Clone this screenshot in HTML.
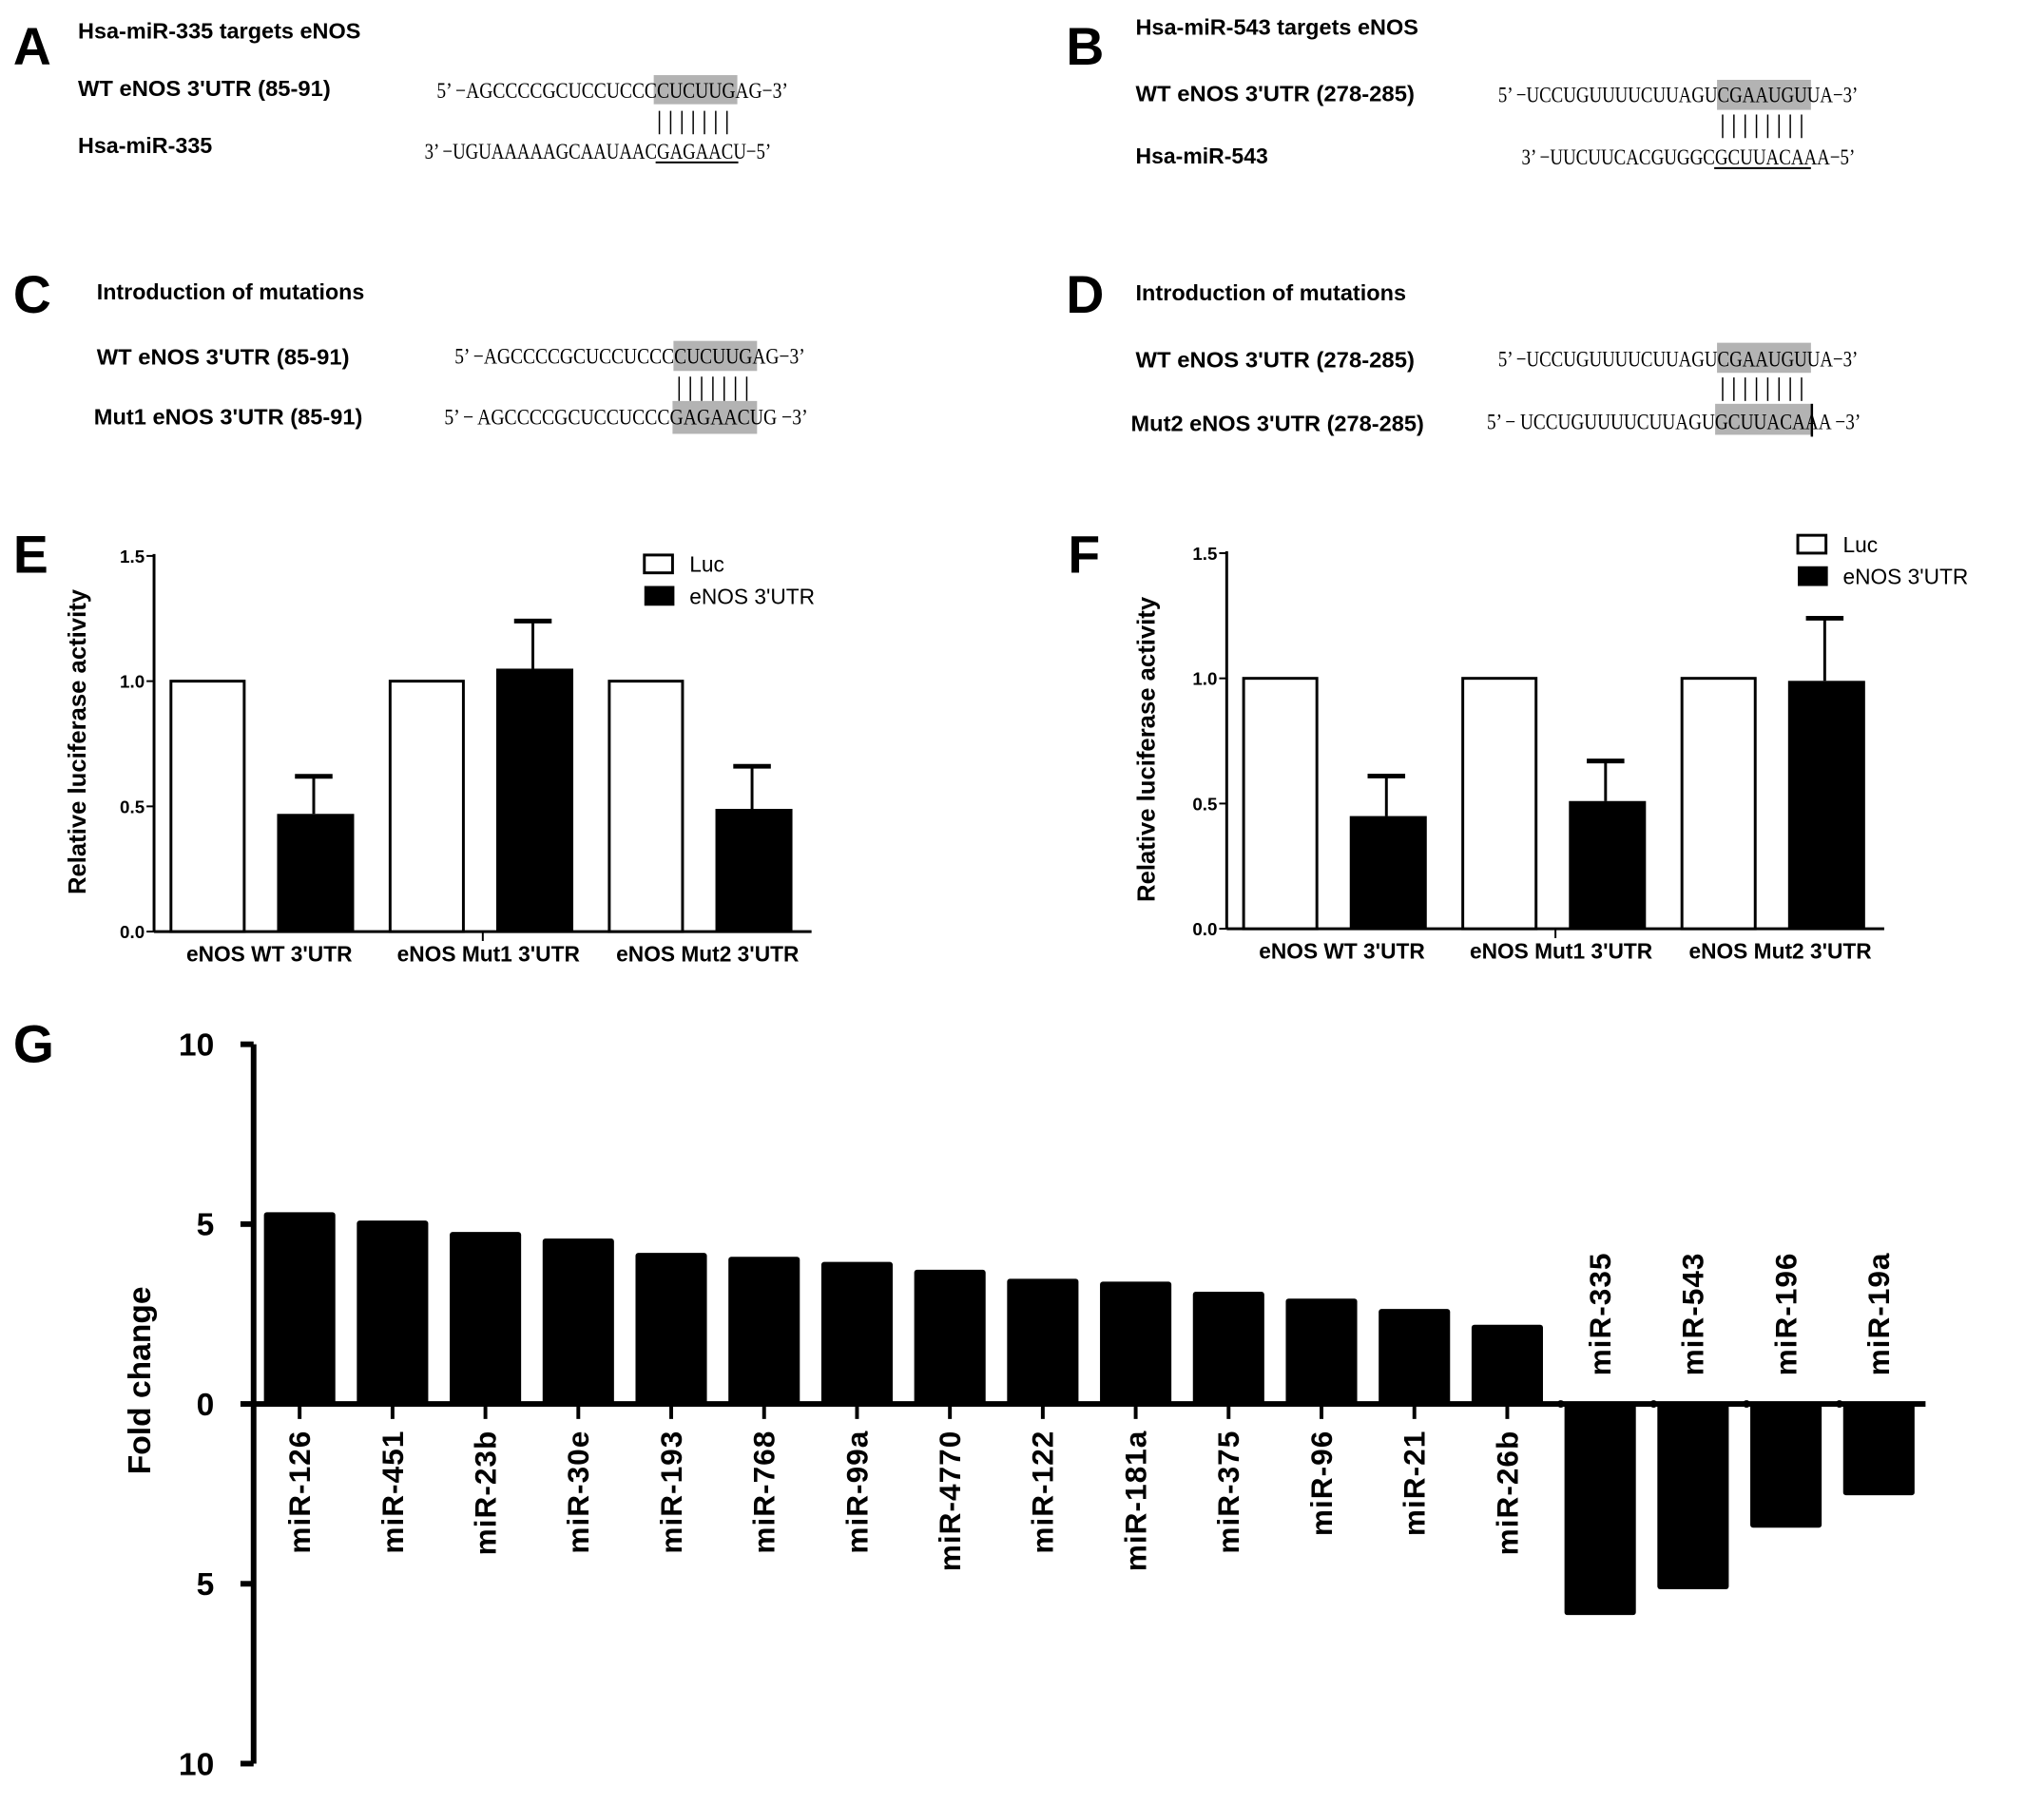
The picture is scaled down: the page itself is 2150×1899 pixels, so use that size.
<!DOCTYPE html>
<html><head><meta charset="utf-8"><style>
html,body{margin:0;padding:0;background:#fff;}
svg{display:block;}
.lb{font-family:"Liberation Sans",sans-serif;font-weight:bold;}
.sq{font-family:"Liberation Serif",serif;}
</style></head><body>
<svg id="fig" width="2150" height="1899" viewBox="0 0 2150 1899" xmlns="http://www.w3.org/2000/svg">
<g transform="scale(0.988)">
<g>
<text class="lb" x="14" y="69" font-size="56">A</text>
<text class="lb" x="83" y="41" font-size="23" textLength="301" lengthAdjust="spacingAndGlyphs">Hsa-miR-335 targets eNOS</text>
<text class="lb" x="83" y="102" font-size="23" textLength="269" lengthAdjust="spacingAndGlyphs">WT eNOS 3'UTR (85-91)</text>
<rect x="696" y="80" width="89" height="31" fill="#b3b3b3"/>
<text class="sq" x="465" y="104" font-size="24" textLength="374" lengthAdjust="spacingAndGlyphs">5’ −AGCCCCGCUCCUCCCCUCUUGAG−3’</text>
<path d="M702 118V143M714 118V143M726 118V143M738 118V143M750 118V143M762 118V143M774 118V143" stroke="#000" stroke-width="1.5"/>
<text class="lb" x="83" y="163" font-size="23" textLength="143" lengthAdjust="spacingAndGlyphs">Hsa-miR-335</text>
<text class="sq" x="452" y="169" font-size="24" textLength="369" lengthAdjust="spacingAndGlyphs">3’ −UGUAAAAAGCAAUAACGAGAACU−5’</text>
<line x1="698" y1="173" x2="786" y2="173" stroke="#000" stroke-width="2"/>
</g>
<g>
<text class="lb" x="1135" y="69" font-size="56">B</text>
<text class="lb" x="1209" y="37" font-size="23" textLength="301" lengthAdjust="spacingAndGlyphs">Hsa-miR-543 targets eNOS</text>
<text class="lb" x="1209" y="108" font-size="23" textLength="297" lengthAdjust="spacingAndGlyphs">WT eNOS 3'UTR (278-285)</text>
<rect x="1828" y="85" width="100" height="32" fill="#b3b3b3"/>
<text class="sq" x="1595" y="109" font-size="24" textLength="383" lengthAdjust="spacingAndGlyphs">5’ −UCCUGUUUUCUUAGUCGAAUGUUA−3’</text>
<path d="M1834 122V147M1846 122V147M1858 122V147M1870 122V147M1882 122V147M1894 122V147M1906 122V147M1918 122V147" stroke="#000" stroke-width="1.5"/>
<text class="lb" x="1209" y="174" font-size="23" textLength="141" lengthAdjust="spacingAndGlyphs">Hsa-miR-543</text>
<text class="sq" x="1620" y="175" font-size="24" textLength="355" lengthAdjust="spacingAndGlyphs">3’ −UUCUUCACGUGGCGCUUACAAA−5’</text>
<line x1="1825" y1="179" x2="1928" y2="179" stroke="#000" stroke-width="2"/>
</g>
<g>
<text class="lb" x="14" y="333" font-size="56">C</text>
<text class="lb" x="103" y="319" font-size="23" textLength="285" lengthAdjust="spacingAndGlyphs">Introduction of mutations</text>
<text class="lb" x="103" y="388" font-size="23" textLength="269" lengthAdjust="spacingAndGlyphs">WT eNOS 3'UTR (85-91)</text>
<rect x="717" y="363" width="89" height="32" fill="#b3b3b3"/>
<text class="sq" x="484" y="387" font-size="24" textLength="373" lengthAdjust="spacingAndGlyphs">5’ −AGCCCCGCUCCUCCCCUCUUGAG−3’</text>
<path d="M723 401V427M735 401V427M747 401V427M759 401V427M771 401V427M783 401V427M795 401V427" stroke="#000" stroke-width="1.5"/>
<text class="lb" x="100" y="452" font-size="23" textLength="286" lengthAdjust="spacingAndGlyphs">Mut1 eNOS 3'UTR (85-91)</text>
<rect x="716" y="427" width="90" height="35" fill="#b3b3b3"/>
<text class="sq" x="473" y="452" font-size="24" textLength="387" lengthAdjust="spacingAndGlyphs">5’ − AGCCCCGCUCCUCCCGAGAACUG −3’</text>
</g>
<g>
<text class="lb" x="1135" y="333" font-size="56">D</text>
<text class="lb" x="1209" y="320" font-size="23" textLength="288" lengthAdjust="spacingAndGlyphs">Introduction of mutations</text>
<text class="lb" x="1209" y="391" font-size="23" textLength="297" lengthAdjust="spacingAndGlyphs">WT eNOS 3'UTR (278-285)</text>
<rect x="1828" y="365" width="100" height="32" fill="#b3b3b3"/>
<text class="sq" x="1595" y="390" font-size="24" textLength="383" lengthAdjust="spacingAndGlyphs">5’ −UCCUGUUUUCUUAGUCGAAUGUUA−3’</text>
<path d="M1834 402V427M1846 402V427M1858 402V427M1870 402V427M1882 402V427M1894 402V427M1906 402V427M1918 402V427" stroke="#000" stroke-width="1.5"/>
<text class="lb" x="1204" y="459" font-size="23" textLength="312" lengthAdjust="spacingAndGlyphs">Mut2 eNOS 3'UTR (278-285)</text>
<rect x="1826" y="430" width="104" height="33" fill="#b3b3b3"/>
<text class="sq" x="1583" y="457" font-size="24" textLength="398" lengthAdjust="spacingAndGlyphs">5’ − UCCUGUUUUCUUAGUGCUUACAAA −3’</text>
<line x1="1929" y1="430" x2="1929" y2="465" stroke="#000" stroke-width="2.5"/>
</g>
<text class="lb" x="14" y="610" font-size="56">E</text>
<text class="lb" x="1137" y="610" font-size="56">F</text>
<text class="lb" x="14" y="1131" font-size="56">G</text>
<g id="chartE"></g>
<g id="chartF"></g>
<g id="chartG"></g>
</g>
</svg>
<script>
const luciferaseCategories = ["eNOS WT 3'UTR", "eNOS Mut1 3'UTR", "eNOS Mut2 3'UTR"];
const luciferaseTicks = ["0.0", "0.5", "1.0", "1.5"];
const eLucValues = [1.0, 1.0, 1.0];
const eUtrValues = [0.47, 1.05, 0.49];
const eUtrErrors = [0.15, 0.19, 0.17];
const fLucValues = [1.0, 1.0, 1.0];
const fUtrValues = [0.45, 0.51, 0.99];
const fUtrErrors = [0.16, 0.16, 0.25];
const gCategories = ["miR-126","miR-451","miR-23b","miR-30e","miR-193","miR-768","miR-99a","miR-4770","miR-122","miR-181a","miR-375","miR-96","miR-21","miR-26b","miR-335","miR-543","miR-196","miR-19a"];
const gValues = [5.33,5.1,4.78,4.6,4.2,4.09,3.95,3.73,3.48,3.4,3.12,2.93,2.64,2.2,-5.87,-5.15,-3.44,-2.54];
const gTicks = [10, 5, 0, -5, -10];
const gTickLabels = ["10", "5", "0", "5", "10"];

const NS = "http://www.w3.org/2000/svg";
function mk(parent, tag, attrs, text) {
  const e = document.createElementNS(NS, tag);
  for (const k in attrs) e.setAttribute(k, attrs[k]);
  if (text !== undefined) e.textContent = text;
  parent.appendChild(e);
  return e;
}

function lucChart(g, cfg, lucVals, utrVals, errs, prefix) {
  const y = v => cfg.y0 - (v / 1.5) * (cfg.y0 - cfg.y15);
  const groupW = (cfg.xEnd - cfg.ax) / luciferaseCategories.length;
  const bw = 78;
  mk(g, "line", {x1: cfg.ax, y1: cfg.y15 - 2, x2: cfg.ax, y2: cfg.y0, stroke: "#000", "stroke-width": 3});
  mk(g, "line", {x1: cfg.ax, y1: cfg.y0, x2: cfg.xEnd, y2: cfg.y0, stroke: "#000", "stroke-width": 3});
  mk(g, "line", {x1: cfg.ax + groupW * 1.5, y1: cfg.y0, x2: cfg.ax + groupW * 1.5, y2: cfg.y0 + 10, stroke: "#000", "stroke-width": 2});
  luciferaseTicks.forEach(t => {
    const yy = y(parseFloat(t));
    mk(g, "line", {x1: cfg.ax - 8, y1: yy, x2: cfg.ax, y2: yy, stroke: "#000", "stroke-width": 2});
    const tx = mk(g, "text", {x: cfg.ax - 10, y: yy + 7, "text-anchor": "end", "font-size": 19, class: "lb"}, t);
    
    
  });
  luciferaseCategories.forEach((c, i) => {
    const gx = cfg.ax + groupW * i;
    const lx = gx + 18, ux = gx + 131;
    const r1 = mk(g, "rect", {x: lx, y: y(lucVals[i]), width: bw, height: cfg.y0 - y(lucVals[i]), fill: "#fff", stroke: "#000", "stroke-width": 3});
    
    
    const ey = y(utrVals[i] + errs[i]);
    mk(g, "line", {x1: ux + bw / 2, y1: ey, x2: ux + bw / 2, y2: y(utrVals[i]), stroke: "#000", "stroke-width": 3});
    mk(g, "line", {x1: ux + bw / 2 - 20, y1: ey, x2: ux + bw / 2 + 20, y2: ey, stroke: "#000", "stroke-width": 5});
    const r2 = mk(g, "rect", {x: ux, y: y(utrVals[i]), width: bw + 4, height: cfg.y0 - y(utrVals[i]), fill: "#000"});
    
    
    const lt = mk(g, "text", {x: gx + groupW / 2 + 6, y: cfg.y0 + 32, "text-anchor": "middle", "font-size": 23, class: "lb"}, c);
    
    
  });
  const yt = mk(g, "text", {x: 0, y: 0, "text-anchor": "middle", "font-size": 26, class: "lb", transform: `translate(${cfg.titleX},${cfg.titleY}) rotate(-90)`}, "Relative luciferase activity");
  
  
  const b1 = mk(g, "rect", {x: cfg.legX, y: cfg.legY, width: 30, height: 19, fill: "#fff", stroke: "#000", "stroke-width": 3});
  
  
  const b2 = mk(g, "rect", {x: cfg.legX, y: cfg.legY + 33, width: 32, height: 21, fill: "#000"});
  
  
  const t1 = mk(g, "text", {x: cfg.legX + 48, y: cfg.legY + 18, "font-size": 23, "font-family": "Liberation Sans, sans-serif"}, "Luc");
  
  
  const t2 = mk(g, "text", {x: cfg.legX + 48, y: cfg.legY + 52, "font-size": 23, "font-family": "Liberation Sans, sans-serif"}, "eNOS 3'UTR");
  
  
}

lucChart(document.getElementById("chartE"), {ax: 164, xEnd: 864, y0: 992, y15: 592, titleX: 91, titleY: 790, legX: 686, legY: 591}, eLucValues, eUtrValues, eUtrErrors, "e");
lucChart(document.getElementById("chartF"), {ax: 1306, xEnd: 2006, y0: 989, y15: 589, titleX: 1229, titleY: 798, legX: 1914, legY: 570}, fLucValues, fUtrValues, fUtrErrors, "f");

(function () {
  const g = document.getElementById("chartG");
  const ax = 270, y0 = 1495, unit = 38.3, first = 319, step = 98.9, bw = 76;
  const y = v => y0 - v * unit;
  mk(g, "line", {x1: ax, y1: y(10), x2: ax, y2: y(-10), stroke: "#000", "stroke-width": 6});
  mk(g, "line", {x1: ax, y1: y0, x2: 2050, y2: y0, stroke: "#000", "stroke-width": 6});
  gTicks.forEach((t, i) => {
    mk(g, "line", {x1: ax - 14, y1: y(t), x2: ax, y2: y(t), stroke: "#000", "stroke-width": 6});
    const tx = mk(g, "text", {x: ax - 42, y: y(t) + 12, "text-anchor": "end", "font-size": 34, class: "lb"}, gTickLabels[i]);
    
    
  });
  const yt = mk(g, "text", {x: 0, y: 0, "text-anchor": "middle", "font-size": 34, class: "lb", transform: "translate(160,1470) rotate(-90)"}, "Fold change");
  
  
  gCategories.forEach((c, i) => {
    const cx = first + step * i;
    const v = gValues[i];
    const top = Math.min(y(v), y0), h = Math.abs(y(v) - y0);
    const r = mk(g, "rect", {x: cx - bw / 2, y: top, width: bw, height: h, fill: "#000", rx: 3});
    
    
    mk(g, "line", {x1: cx, y1: y0, x2: cx, y2: v >= 0 ? y0 + 16 : y0, stroke: "#000", "stroke-width": 4});
    let lab;
    if (v >= 0) {
      lab = mk(g, "text", {x: 0, y: 0, "text-anchor": "end", "font-size": 32, class: "lb", "letter-spacing": "1", transform: `translate(${cx + 11},${y0 + 28}) rotate(-90)`}, c);
    } else {
      mk(g, "circle", {cx: cx - bw / 2 - 4, cy: y0, r: 4, fill: "#000"});
      lab = mk(g, "text", {x: 0, y: 0, "text-anchor": "start", "font-size": 32, class: "lb", "letter-spacing": "1", transform: `translate(${cx + 11},${y0 - 30}) rotate(-90)`}, c);
    }
    
    
  });
})();
</script>
</body></html>
